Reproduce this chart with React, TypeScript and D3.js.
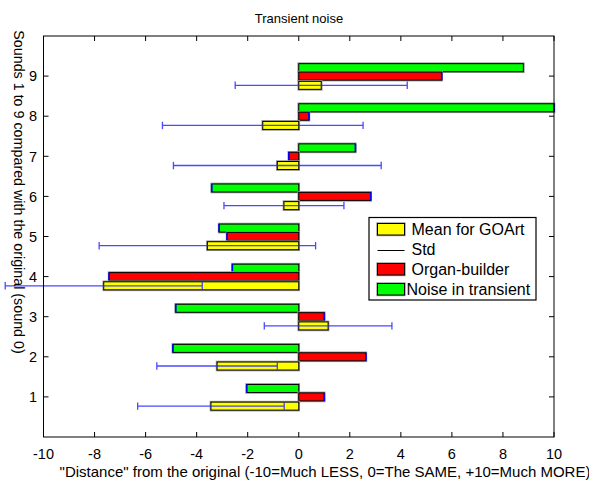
import React from "react";
import * as d3 from "d3";

const sounds = [1, 2, 3, 4, 5, 6, 7, 8, 9];
const meanGOArt = [-3.44, -3.2, 1.15, -7.64, -3.58, -0.58, -0.84, -1.41, 0.88];
const stdGOArt = [2.87, 2.36, 2.5, 3.86, 4.24, 2.35, 4.07, 3.93, 3.37];
const organBuilder = [1.0, 2.63, 1.0, -7.43, -2.81, 2.82, -0.39, 0.4, 5.6];
const noiseTransient = [-2.04, -4.93, -4.82, -2.6, -3.12, -3.41, 2.22, 10, 8.8];
const xTicks = [-10, -8, -6, -4, -2, 0, 2, 4, 6, 8, 10];
const yTicks = [1, 2, 3, 4, 5, 6, 7, 8, 9];
const legendItems = ["Mean for GOArt", "Std", "Organ-builder", "Noise in transient"];

const W = 589;
const H = 485;
const FONT = "'Liberation Sans', Arial, Helvetica, sans-serif";

export default function App() {
  const x = d3.scaleLinear().domain([-10, 10]).range([43.5, 554]);
  const y = d3.scaleLinear().domain([0, 10]).range([437, 36]);
  const bh = 0.2;

  const barRect = (v: number, center: number, fill: string, key: string, endMark: boolean) => {
    const x0 = x(Math.min(0, v));
    const x1 = x(Math.max(0, v));
    const yt = y(center + bh / 2);
    const yb = y(center - bh / 2);
    const endX = v >= 0 ? x1 : x0;
    return (
      <g key={key}>
        <rect x={x0} y={yt} width={x1 - x0} height={yb - yt} fill="none" stroke="#999" strokeWidth={2.6} />
        <rect x={x0} y={yt} width={x1 - x0} height={yb - yt} fill={fill} stroke="#000" strokeWidth={1} />
        {endMark && <line x1={endX} x2={endX} y1={yt} y2={yb} stroke="#0000ff" strokeWidth={1.6} />}
      </g>
    );
  };

  return (
    <svg width={W} height={H} style={{ position: "absolute", left: 0, top: 0, background: "#fff" }} fontFamily={FONT}>
      <rect x={0} y={0} width={W} height={H} fill="#fff" />
      {/* bars */}
      {sounds.map((s, i) => (
        <g key={"s" + s}>
          {barRect(noiseTransient[i], s + 0.21, "#00ff00", "g" + s, s !== 9)}
          {barRect(organBuilder[i], s, "#ff0000", "r" + s, true)}
          {barRect(meanGOArt[i], s - 0.23, "#ffff00", "y" + s, false)}
        </g>
      ))}
      {/* std error bars */}
      {sounds.map((s, i) => {
        const yc = y(s - 0.23);
        const lo = x(meanGOArt[i] - stdGOArt[i]);
        const hi = x(meanGOArt[i] + stdGOArt[i]);
        return (
          <g key={"e" + s} stroke="#2a2aff" strokeWidth={1.3} opacity={0.85}>
            <line x1={lo} x2={hi} y1={yc} y2={yc} />
            <line x1={lo} x2={lo} y1={yc - 3.7} y2={yc + 3.7} />
            <line x1={hi} x2={hi} y1={yc - 3.7} y2={yc + 3.7} />
          </g>
        );
      })}
      {/* frame */}
      <rect x={x(-10)} y={y(10)} width={x(10) - x(-10)} height={y(0) - y(10)} fill="none" stroke="#000" strokeWidth={1} />
      {/* x ticks */}
      {xTicks.map((t) => (
        <g key={"xt" + t}>
          <line x1={x(t)} x2={x(t)} y1={y(0)} y2={y(0) - 5} stroke="#000" />
          <line x1={x(t)} x2={x(t)} y1={y(10)} y2={y(10) + 5} stroke="#000" />
          <text x={x(t)} y={459} fontSize={14.5} textAnchor="middle" fill="#000">
            {t}
          </text>
        </g>
      ))}
      {/* y ticks */}
      {yTicks.map((t) => (
        <g key={"yt" + t}>
          <line x1={x(-10)} x2={x(-10) + 5} y1={y(t)} y2={y(t)} stroke="#000" />
          <line x1={x(10)} x2={x(10) - 5} y1={y(t)} y2={y(t)} stroke="#000" />
          <text x={37} y={y(t) + 5.2} fontSize={14.5} textAnchor="end" fill="#000">
            {t}
          </text>
        </g>
      ))}
      {/* title and labels */}
      <text x={299} y={23} fontSize={13} textAnchor="middle" fill="#000">
        Transient noise
      </text>
      <text x={325} y={477} fontSize={15} textAnchor="middle" fill="#000">
        "Distance" from the original (-10=Much LESS, 0=The SAME, +10=Much MORE)
      </text>
      <text transform="translate(14,192) rotate(90)" fontSize={14.3} textAnchor="middle" fill="#000">
        Sounds 1 to 9 compared with the original (sound 0)
      </text>
      {/* legend */}
      <g>
        <rect x={369} y={217.5} width={167} height={82.5} fill="#fff" stroke="#000" strokeWidth={1.2} />
        {legendItems.map((name, k) => {
          const yc = 229.5 + k * 20;
          const fills = ["#ffff00", null, "#ff0000", "#00ff00"];
          const f = fills[k];
          return (
            <g key={"lg" + k}>
              {f ? (
                <>
                  <rect x={377.5} y={yc - 6} width={27} height={11.5} fill="none" stroke="#999" strokeWidth={2.4} />
                  <rect x={377.5} y={yc - 6} width={27} height={11.5} fill={f} stroke="#000" strokeWidth={1} />
                </>
              ) : (
                <line x1={377.5} x2={404.5} y1={yc + 1} y2={yc + 1} stroke="#000" strokeWidth={1} />
              )}
              <text x={k === 3 ? 406.5 : 411.5} y={yc + 5.5} fontSize={16} fill="#000">
                {name}
              </text>
            </g>
          );
        })}
      </g>
    </svg>
  );
}
